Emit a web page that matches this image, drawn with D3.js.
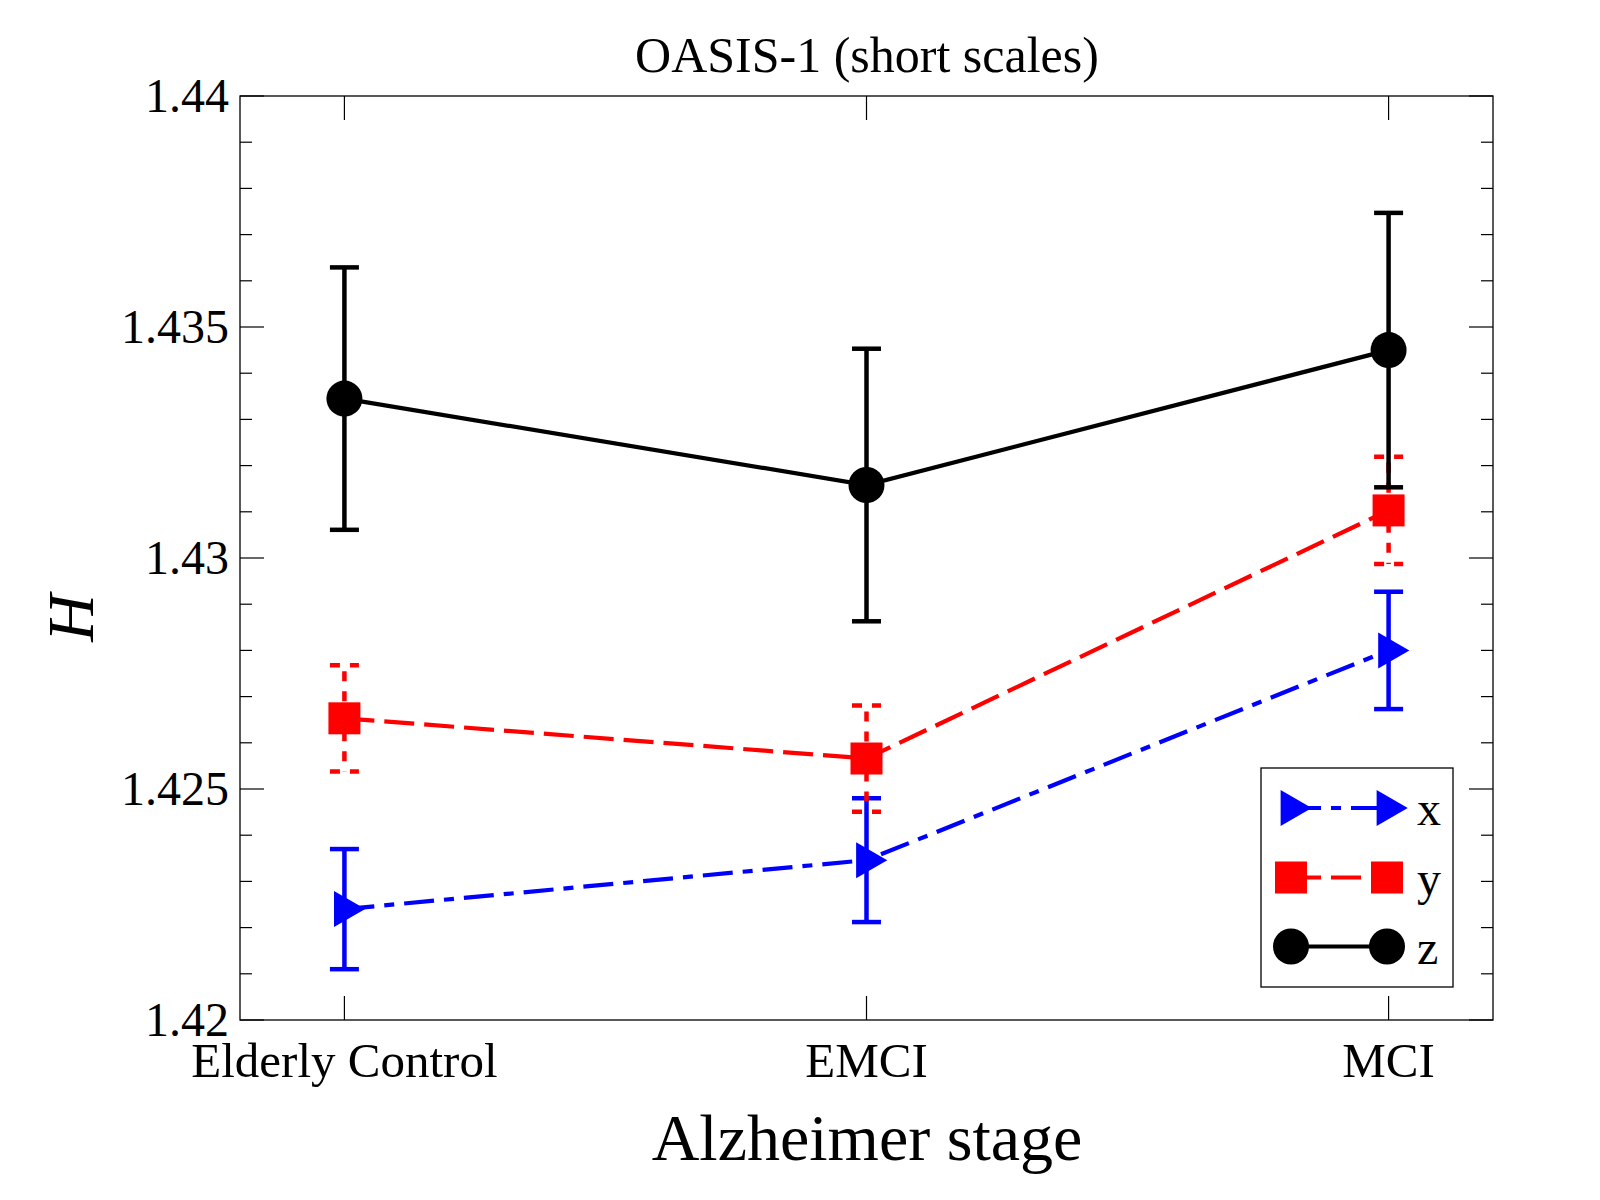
<!DOCTYPE html>
<html>
<head>
<meta charset="utf-8">
<script src="https://cdn.jsdelivr.net/npm/d3@7"></script>
<style>
  html, body { margin: 0; padding: 0; background: #fff; }
  svg { display: block; }
  text { font-family: "Liberation Serif", "DejaVu Serif", serif; fill: #000; }
</style>
</head>
<body>
<svg id="chart" width="1600" height="1200"></svg>
<script>
// ---------- data ----------
const categories = ["Elderly Control", "EMCI", "MCI"];
const seriesNames = ["x", "y", "z"];
const xMean = [1.42240, 1.42346, 1.42800];
const xErr  = [0.00130, 0.00134, 0.00127];
const yMean = [1.42653, 1.42566, 1.43103];
const yErr  = [0.00115, 0.00115, 0.00116];
const zMean = [1.43345, 1.43158, 1.43450];
const zErr  = [0.00284, 0.00295, 0.00297];
const yMajorTicks = [1.42, 1.425, 1.43, 1.435, 1.44];
const yTickLabels = ["1.42", "1.425", "1.43", "1.435", "1.44"];
const yMinorTicks = d3.range(0, 21).map(i => 1.42 + i * 0.001);

const titleText = "OASIS-1 (short scales)";
const xLabel = "Alzheimer stage";
const yLabel = "H";

// ---------- layout ----------
const L = 240, R = 1493, T = 96, B = 1020;
const svg = d3.select("#chart");

const x = d3.scalePoint(categories, [L, R]).padding(0.2);
const y = d3.scaleLinear([1.42, 1.44], [B, T]);

const series = [
  { name: "x", mean: xMean, err: xErr, color: "#0000ff", dash: "30,10,10,10", errDash: null, symbol: "triangle" },
  { name: "y", mean: yMean, err: yErr, color: "#ff0000", dash: "30,10", errDash: "10,10", symbol: "square" },
  { name: "z", mean: zMean, err: zErr, color: "#000000", dash: null, errDash: null, symbol: "circle" }
];

function drawMarker(g, kind, cx, cy, color) {
  if (kind === "circle") {
    g.append("circle").attr("cx", cx).attr("cy", cy).attr("r", 18).attr("fill", color);
  } else if (kind === "square") {
    g.append("rect").attr("x", cx - 16).attr("y", cy - 16).attr("width", 32).attr("height", 32).attr("fill", color);
  } else {
    const sym = d3.symbol().type(d3.symbolTriangle).size(561);
    g.append("path").attr("d", sym())
      .attr("transform", `translate(${cx},${cy}) rotate(90)`)
      .attr("fill", color);
  }
}

// ---------- frame & ticks ----------
const axisG = svg.append("g");
axisG.append("rect").attr("x", L).attr("y", T).attr("width", R - L).attr("height", B - T)
  .attr("fill", "none").attr("stroke", "#000").attr("stroke-width", 1.3);

yMinorTicks.forEach(v => {
  const major = yMajorTicks.some(m => Math.abs(m - v) < 1e-9);
  const len = major ? 24 : 12;
  const yy = y(v);
  axisG.append("line").attr("x1", L).attr("x2", L + len).attr("y1", yy).attr("y2", yy)
    .attr("stroke", "#000").attr("stroke-width", 1.2);
  axisG.append("line").attr("x1", R).attr("x2", R - len).attr("y1", yy).attr("y2", yy)
    .attr("stroke", "#000").attr("stroke-width", 1.2);
});
yMajorTicks.forEach((v, i) => {
  axisG.append("text").attr("x", 229).attr("y", y(v)).attr("dy", "0.34em")
    .attr("text-anchor", "end").attr("font-size", 48).text(yTickLabels[i]);
});
categories.forEach(c => {
  const xx = x(c);
  axisG.append("line").attr("x1", xx).attr("x2", xx).attr("y1", B).attr("y2", B - 24)
    .attr("stroke", "#000").attr("stroke-width", 1.2);
  axisG.append("line").attr("x1", xx).attr("x2", xx).attr("y1", T).attr("y2", T + 24)
    .attr("stroke", "#000").attr("stroke-width", 1.2);
  axisG.append("text").attr("x", xx).attr("y", 1077).attr("text-anchor", "middle")
    .attr("font-size", 49).text(c);
});

// ---------- series ----------
const plotG = svg.append("g");
series.forEach(s => {
  const g = plotG.append("g");
  categories.forEach((c, i) => {
    const xx = x(c);
    const y0 = y(s.mean[i] - s.err[i]), y1 = y(s.mean[i] + s.err[i]);
    const eb = g.append("g").attr("stroke", s.color).attr("stroke-width", 4.5).attr("fill", "none");
    const vl = eb.append("line").attr("x1", xx).attr("x2", xx).attr("y1", y1).attr("y2", y0);
    const c1 = eb.append("line").attr("x1", xx - 14.5).attr("x2", xx + 14.5).attr("y1", y1).attr("y2", y1);
    const c2 = eb.append("line").attr("x1", xx - 14.5).attr("x2", xx + 14.5).attr("y1", y0).attr("y2", y0);
    if (s.errDash) {
      vl.attr("stroke-dasharray", s.errDash).attr("stroke-dashoffset", -6);
      c1.attr("stroke-dasharray", s.errDash);
      c2.attr("stroke-dasharray", s.errDash);
    }
  });
  const line = d3.line().x((d, i) => x(categories[i])).y(d => y(d));
  const p = g.append("path").attr("d", line(s.mean)).attr("fill", "none")
    .attr("stroke", s.color).attr("stroke-width", 4.2);
  if (s.dash) p.attr("stroke-dasharray", s.dash);
  categories.forEach((c, i) => drawMarker(g, s.symbol, x(c), y(s.mean[i]), s.color));
});

// ---------- legend ----------
const lg = svg.append("g");
lg.append("rect").attr("x", 1261).attr("y", 768).attr("width", 192).attr("height", 219)
  .attr("fill", "#fff").attr("stroke", "#000").attr("stroke-width", 1.3);
const rowY = [808, 877.5, 946.5];
series.forEach((s, i) => {
  const yy = rowY[i];
  const ln = lg.append("line").attr("x1", 1291).attr("x2", 1387).attr("y1", yy).attr("y2", yy)
    .attr("stroke", s.color).attr("stroke-width", 4.2);
  if (s.dash) ln.attr("stroke-dasharray", s.dash);
  drawMarker(lg, s.symbol, 1291, yy, s.color);
  drawMarker(lg, s.symbol, 1387, yy, s.color);
  lg.append("text").attr("x", 1417).attr("y", yy + 17).attr("font-size", 48).text(seriesNames[i]);
});

// ---------- titles ----------
svg.append("text").attr("x", 867).attr("y", 72).attr("text-anchor", "middle")
  .attr("font-size", 50).text(titleText);
svg.append("text").attr("x", 867).attr("y", 1160).attr("text-anchor", "middle")
  .attr("font-size", 66).text(xLabel);
svg.append("text").attr("transform", "translate(93,618) rotate(-90)").attr("text-anchor", "middle")
  .attr("font-size", 66).attr("font-style", "italic").text(yLabel);
</script>
</body>
</html>
